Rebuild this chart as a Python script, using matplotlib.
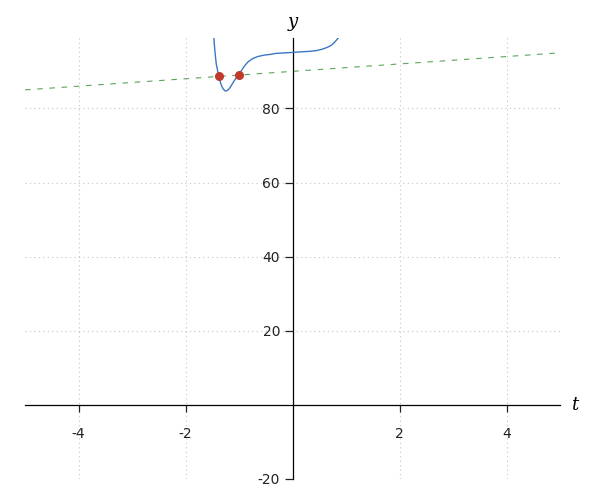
import numpy as np
import matplotlib
matplotlib.use("Agg")
import matplotlib.pyplot as plt

# curve values
curve_t = [-1.471, -1.45, -1.426, -1.40, -1.378, -1.355, -1.336, -1.30, -1.258,
           -1.22, -1.178, -1.13, -1.084, -1.04, -1.004, -0.95, -0.90, -0.836,
           -0.75, -0.649, -0.523, -0.40, -0.336, -0.20, 0.0, 0.15, 0.318,
           0.45, 0.536, 0.60, 0.654, 0.723, 0.79, 0.86]
curve_y = [99.1, 95.4, 92.1, 90.2, 88.6, 87.4, 86.5, 85.3, 84.7,
           84.8, 85.4, 86.5, 87.6, 88.4, 89.1, 90.3, 91.4, 92.5,
           93.4, 94.0, 94.4, 94.6, 94.8, 94.95, 95.1, 95.25, 95.4,
           95.6, 95.9, 96.2, 96.5, 97.0, 97.9, 99.1]

# dashed reference line y = t + 90 (end points)
line_t = [-5, 5]
line_y = [85, 95]

# marked intersection points
pts_t = [-1.378, -1.004]
pts_y = [88.62, 89.0]

fig = plt.figure(figsize=(6, 5), dpi=100)
ax = fig.add_axes([25 / 600, 21 / 500, 535 / 600, 441 / 500])

ax.plot(curve_t, curve_y, color='#3a78c3', lw=1.0, zorder=3)
ax.plot(line_t, line_y, color='#5aa65a', lw=0.8, ls=(0, (5, 6)), zorder=2)
ax.scatter(pts_t, pts_y, s=30, color='#c0392b', zorder=4)

ax.set_xlim(-5, 5)
ax.set_ylim(-20, 99)

ax.spines['left'].set_position(('data', 0))
ax.spines['bottom'].set_position(('data', 0))
ax.spines['right'].set_visible(False)
ax.spines['top'].set_visible(False)
for s in ['left', 'bottom']:
    ax.spines[s].set_linewidth(0.9)

ax.set_xticks([-4, -2, 2, 4])
ax.set_xticklabels(['-4', '-2', '2', '4'])
ax.set_yticks([-20, 20, 40, 60, 80])
ax.set_yticklabels(['-20', '20', '40', '60', '80'])
ax.tick_params(labelsize=10, colors='#222222', width=0.9)
ax.tick_params(axis='x', length=5, pad=11)
ax.tick_params(axis='y', length=6, pad=3)

ax.grid(True, color='#c4c4c4', ls=(0, (1, 3)), lw=0.8)
ax.set_axisbelow(True)

ax.text(5.2, 0, 't', fontsize=13, family='DejaVu Serif', style='italic',
        va='center', ha='left')
ax.text(0, 101, 'y', fontsize=13, family='DejaVu Serif', style='italic',
        va='bottom', ha='center')

fig.savefig('out.png', dpi=100)
